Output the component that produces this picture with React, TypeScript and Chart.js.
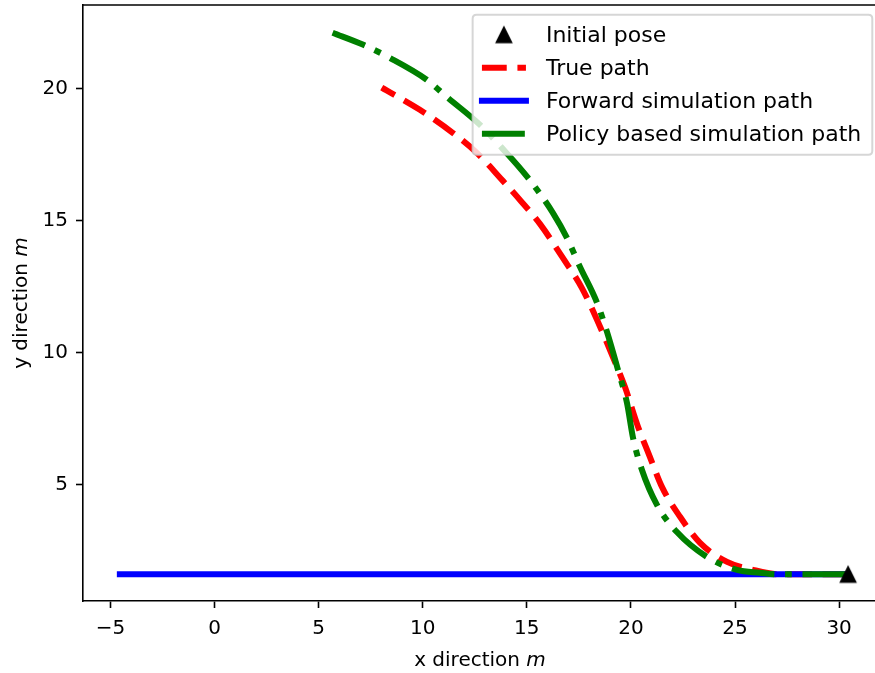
import React, { useEffect, useRef } from 'react';
import { Chart, registerables } from 'chart.js';

Chart.register(...registerables);

// ---- data ----
const poseX = [30.43];
const poseY = [1.6];

const trueX = [30.4, 27.16, 25.87, 24.62, 23.32, 22.36, 21.49, 20.91, 20.34, 19.71, 19.13, 18.37, 17.64, 16.73, 15.63, 14.71, 13.85, 12.6, 11.44, 9.86, 8.03];
const trueY = [1.6, 1.6, 1.77, 2.07, 2.79, 3.78, 4.91, 6.05, 7.19, 8.7, 9.84, 11.24, 12.45, 13.58, 14.87, 15.74, 16.5, 17.56, 18.32, 19.19, 20.03];

const forwardX = [30.43, -4.55];
const forwardY = [1.6, 1.6];

const policyX = [30.3, 27.0, 26.2, 25.1, 23.65, 22.21, 21.25, 20.53, 20.1, 19.81, 19.38, 18.85, 18.37, 17.55, 16.92, 16.25, 15.05, 13.8, 12.74, 11.2, 10.19, 8.41, 7.12, 5.67];
const policyY = [1.6, 1.6, 1.66, 1.77, 2.26, 3.2, 4.23, 5.55, 6.77, 8.09, 9.34, 10.78, 11.89, 13.25, 14.35, 15.29, 16.62, 17.75, 18.63, 19.65, 20.33, 21.16, 21.66, 22.11];

const xTicks = [-5, 0, 5, 10, 15, 20, 25, 30];
const yTicks = [5, 10, 15, 20];

const seriesLabels = ['Initial pose', 'True path', 'Forward simulation path', 'Policy based simulation path'];

const FONT = "'DejaVu Sans', sans-serif";

function toPoints(xs: number[], ys: number[]) {
  return xs.map((x, i) => ({ x, y: ys[i] }));
}

function fmt(v: number) {
  return v < 0 ? '\u2212' + Math.abs(v) : String(v);
}

function makeTriangle() {
  const c = document.createElement('canvas');
  c.width = 20;
  c.height = 20;
  const g = c.getContext('2d')!;
  g.beginPath();
  g.moveTo(10, 2.3);
  g.lineTo(2.3, 17.7);
  g.lineTo(17.7, 17.7);
  g.closePath();
  g.fillStyle = '#000';
  g.fill();
  g.lineWidth = 1.4;
  g.strokeStyle = '#000';
  g.stroke();
  return c;
}

const framePlugin = {
  id: 'mplFrame',
  afterDraw(chart: any) {
    const { ctx, chartArea } = chart;
    ctx.save();
    ctx.strokeStyle = '#000';
    ctx.lineWidth = 1.6;
    ctx.beginPath();
    ctx.moveTo(chartArea.left - 0.8, chartArea.top);
    ctx.lineTo(chartArea.right, chartArea.top);
    ctx.stroke();
    ctx.beginPath();
    ctx.moveTo(chartArea.right, chartArea.top);
    ctx.lineTo(chartArea.right, chartArea.bottom);
    ctx.stroke();

    // axis titles with italic unit
    const drawTitle = (a: string, b: string) => {
      ctx.font = `20px ${FONT}`;
      const w1 = ctx.measureText(a).width;
      ctx.font = `italic 20px ${FONT}`;
      const w2 = ctx.measureText(b).width;
      const start = -(w1 + w2) / 2;
      ctx.textAlign = 'left';
      ctx.textBaseline = 'alphabetic';
      ctx.fillStyle = '#000';
      ctx.font = `20px ${FONT}`;
      ctx.fillText(a, start, 0);
      ctx.font = `italic 20px ${FONT}`;
      ctx.fillText(b, start + w1, 0);
    };
    const cx = (chartArea.left + chartArea.right) / 2 - 2.5;
    ctx.save();
    ctx.translate(cx, 666);
    drawTitle('x direction ', 'm');
    ctx.restore();
    ctx.save();
    ctx.translate(27, (chartArea.top + chartArea.bottom) / 2);
    ctx.rotate(-Math.PI / 2);
    drawTitle('y direction ', 'm');
    ctx.restore();
    ctx.restore();
  },
};

const legendPlugin = {
  id: 'mplLegend',
  afterDatasetsDraw(chart: any) {
    const { ctx, chartArea } = chart;
    const ds = chart.data.datasets;
    ctx.save();
    ctx.font = `22px ${FONT}`;
    const maxW = Math.max(...ds.map((d: any) => ctx.measureText(d.label).width));
    const right = chartArea.right - 9.7;
    const top = chartArea.top + 9.7;
    const textOffset = 73.3;
    const left = right - (textOffset + maxW + 11);
    const height = 140;
    const r = 4;
    ctx.beginPath();
    ctx.moveTo(left + r, top);
    ctx.lineTo(right - r, top);
    ctx.quadraticCurveTo(right, top, right, top + r);
    ctx.lineTo(right, top + height - r);
    ctx.quadraticCurveTo(right, top + height, right - r, top + height);
    ctx.lineTo(left + r, top + height);
    ctx.quadraticCurveTo(left, top + height, left, top + height - r);
    ctx.lineTo(left, top + r);
    ctx.quadraticCurveTo(left, top, left + r, top);
    ctx.closePath();
    ctx.fillStyle = 'rgba(255,255,255,0.8)';
    ctx.fill();
    ctx.strokeStyle = 'rgba(204,204,204,0.8)';
    ctx.lineWidth = 2;
    ctx.stroke();

    ds.forEach((d: any, i: number) => {
      const base = top + 27.7 + 33 * i;
      const hy = base - 7.7;
      const x0 = left + 9.3;
      const x1 = left + 53.3;
      if (d.showLine === false) {
        const img = d.pointStyle as HTMLCanvasElement;
        ctx.drawImage(img, (x0 + x1) / 2 - img.width / 2, hy - img.height / 2);
      } else {
        ctx.save();
        ctx.strokeStyle = d.borderColor;
        ctx.lineWidth = d.borderWidth;
        ctx.lineCap = d.borderCapStyle || 'butt';
        ctx.setLineDash(d.borderDash || []);
        ctx.beginPath();
        ctx.moveTo(x0, hy);
        ctx.lineTo(x1, hy);
        ctx.stroke();
        ctx.restore();
      }
      ctx.fillStyle = '#000';
      ctx.font = `22px ${FONT}`;
      ctx.textAlign = 'left';
      ctx.textBaseline = 'alphabetic';
      ctx.fillText(d.label, left + textOffset, base);
    });
    ctx.restore();
  },
};

export default function App() {
  const ref = useRef<HTMLCanvasElement | null>(null);

  useEffect(() => {
    if (!ref.current) return;
    const tri = makeTriangle();
    const chart = new Chart(ref.current, {
      type: 'scatter',
      data: {
        datasets: [
          {
            label: seriesLabels[0],
            data: toPoints(poseX, poseY),
            showLine: false,
            pointStyle: tri as any,
            pointRadius: 9,
            order: 1,
          },
          {
            label: seriesLabels[1],
            data: toPoints(trueX, trueY),
            showLine: true,
            borderColor: '#ff0000',
            borderWidth: 6,
            borderDash: [24.8, 10.7],
            borderCapStyle: 'butt',
            pointRadius: 0,
            cubicInterpolationMode: 'monotone',
            order: 4,
          },
          {
            label: seriesLabels[2],
            data: toPoints(forwardX, forwardY),
            showLine: true,
            borderColor: '#0000ff',
            borderWidth: 6,
            borderCapStyle: 'square',
            pointRadius: 0,
            order: 3,
          },
          {
            label: seriesLabels[3],
            data: toPoints(policyX, policyY),
            showLine: true,
            borderColor: '#008000',
            borderWidth: 6,
            borderDash: [42.9, 10.7, 6.7, 10.7],
            borderCapStyle: 'butt',
            pointRadius: 0,
            cubicInterpolationMode: 'monotone',
            order: 2,
          },
        ] as any,
      },
      options: {
        responsive: false,
        animation: false,
        devicePixelRatio: 1,
        events: [],
        layout: { autoPadding: false, padding: { left: 0, top: 5, right: 8, bottom: 0 } },
        plugins: { legend: { display: false }, tooltip: { enabled: false } },
        scales: {
          x: {
            type: 'linear',
            min: -6.32,
            max: 32.06,
            afterBuildTicks: (s: any) => {
              s.ticks = xTicks.map((v) => ({ value: v }));
            },
            afterFit: (s: any) => {
              s.height = 72;
              s.paddingLeft = 0;
              s.paddingRight = 0;
              s.paddingTop = 0;
              s.paddingBottom = 0;
            },
            grid: { display: true, drawOnChartArea: false, drawTicks: true, tickLength: 7, tickWidth: 1.6, tickColor: '#000' },
            border: { display: true, color: '#000', width: 1.6 },
            ticks: {
              color: '#000',
              font: { family: FONT, size: 20 },
              padding: 9,
              maxRotation: 0,
              autoSkip: false,
              callback: (v: any) => fmt(Number(v)),
            },
          },
          y: {
            type: 'linear',
            min: 0.59,
            max: 23.16,
            afterBuildTicks: (s: any) => {
              s.ticks = yTicks.map((v) => ({ value: v }));
            },
            afterFit: (s: any) => {
              s.width = 83;
              s.paddingLeft = 0;
              s.paddingRight = 0;
              s.paddingTop = 0;
              s.paddingBottom = 0;
            },
            grid: { display: true, drawOnChartArea: false, drawTicks: true, tickLength: 7, tickWidth: 1.6, tickColor: '#000' },
            border: { display: true, color: '#000', width: 1.6 },
            ticks: {
              color: '#000',
              font: { family: FONT, size: 20 },
              padding: 8,
              autoSkip: false,
              callback: (v: any) => fmt(Number(v)),
            },
          },
        },
      } as any,
      plugins: [legendPlugin, framePlugin],
    });
    return () => chart.destroy();
  }, []);

  return (
    <div style={{ position: 'fixed', left: 0, top: 0, width: 875, height: 673, overflow: 'hidden', background: '#fff' }}>
      <canvas ref={ref} width={890} height={673} style={{ display: 'block' }} />
    </div>
  );
}
